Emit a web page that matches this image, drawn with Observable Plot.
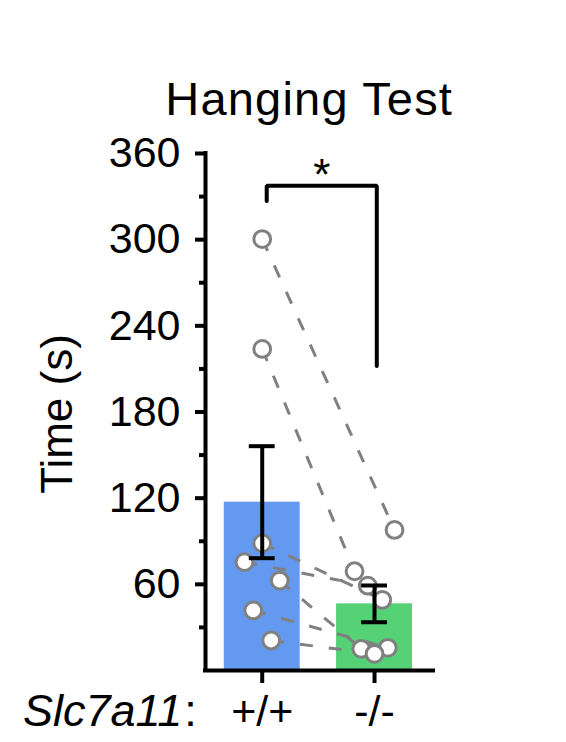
<!DOCTYPE html>
<html>
<head>
<meta charset="utf-8">
<script src="https://cdn.jsdelivr.net/npm/d3@7"></script>
<script src="https://cdn.jsdelivr.net/npm/@observablehq/plot@0.6"></script>
<style>
  html, body { margin: 0; padding: 0; background: #fff; }
  body { width: 566px; height: 742px; overflow: hidden; font-family: "Liberation Sans", Arial, sans-serif; }
  #title { position: relative; height: 128px; }
  #title span { position: absolute; left: 309.2px; top: 75.2px; transform: translateX(-50%);
    font-size: 47px; line-height: 47px; letter-spacing: 1.2px; color: #000; white-space: nowrap; }
  svg { display: block; }
</style>
</head>
<body>
<div id="title"><span>Hanging Test</span></div>
<div id="chart"></div>
<script>
// ---- data ----
const groups = ["+/+", "-/-"];
const groupPos = [0, 1];
const means = [117.2, 46.4];
const sems = [39, 12.8];
const wtValues = [300.4, 223.9, 88.6, 75.4, 62.6, 41.8, 20.9];
const koValues = [97.9, 69.1, 49.2, 59.1, 15.1, 15.8, 11.6];
const wtJitter = [0, 0, 0, -0.158, 0.156, -0.08, 0.08];
const koJitter = [0.178, -0.178, 0.069, -0.06, -0.118, 0.118, 0];
const yMajorTicks = [60, 120, 180, 240, 300, 360];
const yMinorTicks = [30, 90, 150, 210, 270, 330];
const sigLabel = "*";
const sigTop = 337.5, sigLeftEnd = 327, sigRightEnd = 212;
const sigLeftX = 0.04, sigRightX = 1.02;
const yLabel = "Time (s)";
const genotypeLabel = "Slc7a11";

// ---- build tables ----
const bars = groups.map((g, i) => ({g, pos: groupPos[i], mean: means[i], sem: sems[i]}));
const pairs = wtValues.map((v, i) => ({
  x1: groupPos[0] + wtJitter[i], y1: v,
  x2: groupPos[1] + koJitter[i], y2: koValues[i]
}));
const dots = [
  ...wtValues.map((v, i) => ({x: groupPos[0] + wtJitter[i], y: v})),
  ...koValues.map((v, i) => ({x: groupPos[1] + koJitter[i], y: v}))
];
const bracket = [
  {x: sigLeftX, y: sigLeftEnd}, {x: sigLeftX, y: sigTop},
  {x: sigRightX, y: sigTop}, {x: sigRightX, y: sigRightEnd}
];

const barHalf = 0.338, capHalf = 0.115;
const colors = ["#6399EE", "#55D176"];
const FONT = "'Liberation Sans', Arial, sans-serif";

const plot = Plot.plot({
  width: 566,
  height: 614,
  marginTop: 25,
  marginBottom: 72,
  marginLeft: 205,
  marginRight: 133,
  x: {domain: [-0.505, 1.525]},
  y: {domain: [0, 360]},
  style: {fontFamily: FONT, color: "#000", background: "#fff", overflow: "visible"},
  marks: [
    Plot.rectY(bars, {x1: d => d.pos - barHalf, x2: d => d.pos + barHalf, y1: 0, y2: "mean",
      fill: (d, i) => colors[i]}),
    Plot.link(pairs, {x1: "x1", y1: "y1", x2: "x2", y2: "y2", stroke: "#808080",
      strokeWidth: 3, strokeDasharray: "13,16"}),
    Plot.dot(dots, {x: "x", y: "y", r: 8.4, fill: "#fff", stroke: "#808080", strokeWidth: 3}),
    Plot.ruleX(bars, {x: "pos", y1: d => d.mean - d.sem, y2: d => d.mean + d.sem,
      stroke: "#000", strokeWidth: 4}),
    Plot.ruleY(bars, {y: d => d.mean + d.sem, x1: d => d.pos - capHalf, x2: d => d.pos + capHalf,
      stroke: "#000", strokeWidth: 4}),
    Plot.ruleY(bars, {y: d => d.mean - d.sem, x1: d => d.pos - capHalf, x2: d => d.pos + capHalf,
      stroke: "#000", strokeWidth: 4}),
    Plot.line(bracket, {x: "x", y: "y", stroke: "#000", strokeWidth: 4, strokeLinejoin: "miter"}),
    Plot.text([sigLabel], {x: (sigLeftX + sigRightX) / 2, y: sigTop, lineAnchor: "bottom",
      dy: 4, fontSize: 44, fill: "#000"}),
    Plot.ruleX([-0.505], {stroke: "#000", strokeWidth: 4, strokeLinecap: "square"}),
    Plot.ruleY([0], {stroke: "#000", strokeWidth: 4, strokeLinecap: "square"}),
    Plot.axisY({ticks: yMajorTicks, tickSize: 10, tickPadding: 15, fontSize: 43,
      strokeWidth: 4, label: null}),
    Plot.axisY({ticks: yMinorTicks, tickSize: 6, tickFormat: () => "", strokeWidth: 4, label: null}),
    Plot.axisX({ticks: groupPos, tickFormat: i => groups[i], tickSize: 13, tickPadding: 12,
      fontSize: 43, strokeWidth: 4, label: null})
  ]
});

document.getElementById("chart").appendChild(plot);

const svg = d3.select(plot);
// y-axis title
svg.append("text")
  .attr("transform", "translate(72,286) rotate(-90)")
  .attr("text-anchor", "middle")
  .attr("font-size", 44).attr("fill", "#000").attr("font-family", FONT)
  .text(yLabel);
// genotype label with italic gene name
const t = svg.append("text")
  .attr("x", 23).attr("y", 598)
  .attr("text-anchor", "start")
  .attr("font-size", 45).attr("fill", "#000").attr("font-family", FONT);
t.append("tspan").attr("font-style", "italic").text(genotypeLabel);
t.append("tspan").attr("dx", 2).text(":");
</script>
</body>
</html>
